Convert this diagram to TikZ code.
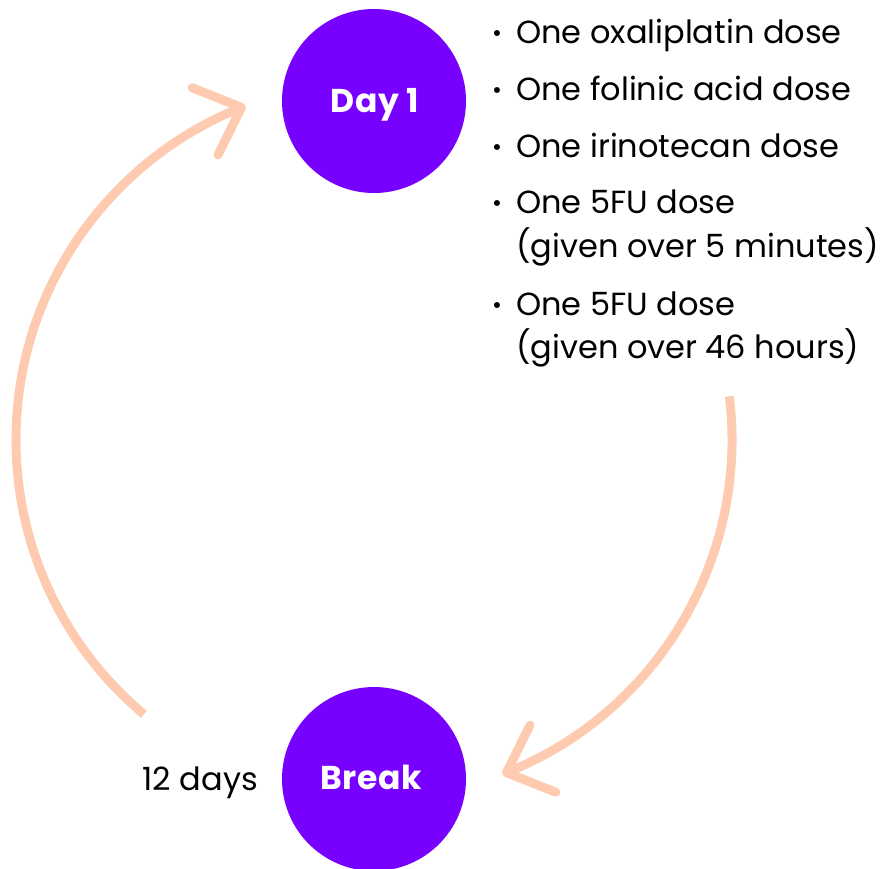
\documentclass[tikz,border=0pt]{standalone}
\usepackage{fontspec}
\setmainfont{Poppins}
\usetikzlibrary{arrows.meta,bending}
\definecolor{dayviolet}{HTML}{7700FF}
\definecolor{looppeach}{HTML}{FFCBB0}

\begin{document}
\begin{tikzpicture}[x=1pt,y=1pt,
    phase/.style={circle,fill=dayviolet,minimum size=184pt,inner sep=0pt},
    phasetext/.style={anchor=base,text=white,inner sep=0pt,
      font=\fontsize{33}{36}\selectfont\bfseries\addfontfeatures{LetterSpace=2}},
    loop/.style={draw=looppeach,line width=9pt,
      -{Straight Barb[length=39pt,width=72pt,round]}},
    dose/.style={anchor=base west,inner sep=0pt,font=\fontsize{32}{36}\selectfont},
    dot/.style={anchor=base,inner sep=0pt,font=\fontsize{24}{26}\selectfont}]
        \useasboundingbox (0,0) rectangle (882,-868);
        \coordinate (Mid)   at (374,-440);
        \node[phase] (Day)   at (374,-101) {};
        \node[phase] (Break) at (374,-779) {};
        \node[phasetext] (DayT) at (375,-112) {Day 1};
        \node[phasetext] (BreakT) at (371,-789) {Break};
        \node[anchor=base east,inner sep=0pt,font=\fontsize{32}{36}\selectfont] (Gap) at (258,-790) {12 days};
        % what is given on day 1
        \node[dot] at (497,-41) {•};
        \node[dose] (Oxa) at (516,-43) {One oxaliplatin dose};
        \node[dot] at (497,-98) {•};
        \node[dose] (Fol) at (516,-100) {One folinic acid dose};
        \node[dot] at (497,-155) {•};
        \node[dose] (Iri) at (516,-157) {One irinotecan dose};
        \node[dot] at (497,-211) {•};
        \node[dose] (FuA) at (516,-213) {One 5FU dose};
        \node[dose] (FuAt) at (516,-257) {(given over 5 minutes)};
        \node[dot] at (497,-313) {•};
        \node[dose] (FuB) at (516,-315) {One 5FU dose};
        \node[dose] (FuBt) at (516,-358) {(given over 46 hours)};
        % the cycle
        \draw[loop] ([shift={(230:358)}]Mid) arc[start angle=230,end angle=111,radius=358];
        \draw[loop] ([shift={(7:358)}]Mid) arc[start angle=7,end angle=-69,radius=358];
\end{tikzpicture}
\end{document}
